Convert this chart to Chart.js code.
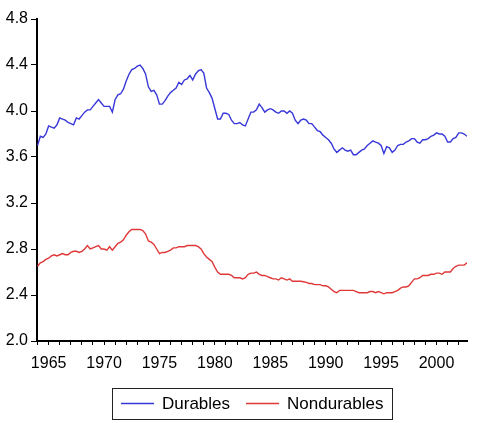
<!DOCTYPE html>
<html>
<head>
<meta charset="utf-8">
<script src="https://cdn.jsdelivr.net/npm/chart.js@4.4.0/dist/chart.umd.min.js"></script>
<style>
  html, body { margin: 0; padding: 0; background: #fff; }
  #chart { display: block; }
</style>
</head>
<body>
<canvas id="chart" width="480" height="423"></canvas>
<script>
// quarterly series, first observation 1964Q1
const startYear = 1964;
const seriesNames = ['Durables', 'Nondurables'];
const yTicks = [2.0, 2.4, 2.8, 3.2, 3.6, 4.0, 4.4, 4.8];
const yearTicks = [1964, 1965, 1966, 1967, 1968, 1969, 1970, 1971, 1972, 1973,
    1974, 1975, 1976, 1977, 1978, 1979, 1980, 1981, 1982, 1983,
    1984, 1985, 1986, 1987, 1988, 1989, 1990, 1991, 1992, 1993,
    1994, 1995, 1996, 1997, 1998, 1999, 2000, 2001, 2002];
const labelYears = [1965, 1970, 1975, 1980, 1985, 1990, 1995, 2000];

const durables = [
    3.70, 3.78, 3.77, 3.80, 3.87, 3.86, 3.85, 3.88, 3.94, 3.93,
    3.92, 3.90, 3.89, 3.88, 3.94, 3.93, 3.96, 3.99, 4.01, 4.01,
    4.04, 4.07, 4.10, 4.07, 4.04, 4.04, 4.04, 3.99, 4.10, 4.14,
    4.15, 4.19, 4.26, 4.32, 4.36, 4.37, 4.39, 4.40, 4.37, 4.32,
    4.21, 4.17, 4.18, 4.14, 4.06, 4.06, 4.09, 4.13, 4.16, 4.18,
    4.20, 4.25, 4.23, 4.27, 4.28, 4.31, 4.27, 4.32, 4.35, 4.36,
    4.33, 4.20, 4.16, 4.11, 4.02, 3.93, 3.93, 3.98, 3.98, 3.97,
    3.92, 3.89, 3.89, 3.90, 3.88, 3.87, 3.93, 3.99, 3.99, 4.01,
    4.06, 4.03, 3.99, 4.01, 4.02, 4.01, 3.99, 3.98, 4.00, 4.00,
    3.98, 4.00, 3.98, 3.92, 3.89, 3.92, 3.93, 3.92, 3.89, 3.89,
    3.86, 3.83, 3.82, 3.79, 3.77, 3.75, 3.72, 3.67, 3.64, 3.66,
    3.68, 3.66, 3.65, 3.66, 3.62, 3.62, 3.64, 3.66, 3.67, 3.70,
    3.72, 3.74, 3.73, 3.72, 3.70, 3.63, 3.69, 3.68, 3.64, 3.66,
    3.70, 3.71, 3.71, 3.73, 3.74, 3.76, 3.76, 3.73, 3.72, 3.75,
    3.75, 3.76, 3.78, 3.79, 3.81, 3.80, 3.80, 3.78, 3.73, 3.73,
    3.76, 3.77, 3.81, 3.81, 3.80, 3.78
];

const nondurables = [
    2.65, 2.68, 2.69, 2.71, 2.72, 2.74, 2.75, 2.74, 2.75, 2.76,
    2.75, 2.75, 2.77, 2.78, 2.78, 2.77, 2.78, 2.80, 2.83, 2.80,
    2.81, 2.82, 2.83, 2.80, 2.80, 2.79, 2.82, 2.79, 2.82, 2.85,
    2.86, 2.88, 2.92, 2.95, 2.97, 2.97, 2.97, 2.97, 2.96, 2.93,
    2.87, 2.86, 2.84, 2.80, 2.76, 2.77, 2.77, 2.78, 2.79, 2.81,
    2.81, 2.82, 2.82, 2.82, 2.83, 2.83, 2.83, 2.83, 2.82, 2.80,
    2.76, 2.73, 2.71, 2.69, 2.64, 2.60, 2.58, 2.58, 2.58, 2.58,
    2.57, 2.55, 2.55, 2.55, 2.54, 2.55, 2.58, 2.59, 2.59, 2.60,
    2.58, 2.57, 2.57, 2.56, 2.55, 2.54, 2.54, 2.53, 2.55, 2.54,
    2.53, 2.54, 2.52, 2.52, 2.52, 2.52, 2.515, 2.51, 2.50, 2.50,
    2.49, 2.49, 2.49, 2.48, 2.48, 2.47, 2.45, 2.43, 2.42, 2.44,
    2.44, 2.44, 2.44, 2.44, 2.44, 2.43, 2.42, 2.42, 2.42, 2.42,
    2.43, 2.43, 2.42, 2.43, 2.42, 2.41, 2.42, 2.42, 2.42, 2.43,
    2.44, 2.46, 2.47, 2.47, 2.48, 2.51, 2.54, 2.54, 2.55, 2.57,
    2.57, 2.57, 2.58, 2.58, 2.59, 2.59, 2.58, 2.60, 2.60, 2.60,
    2.63, 2.65, 2.66, 2.66, 2.66, 2.68
];

const colors = ['#3838d8', '#e03838'];
const fontFamily = '"Liberation Sans", Arial, Helvetica, sans-serif';

function toPoints(values) {
    return values.map((v, i) => ({ x: startYear + i / 4, y: v }));
}

// boxed legend under the plot, line sample + label for each series
const boxLegend = {
    id: 'boxLegend',
    afterDraw(chart) {
        const ctx = chart.ctx;
        const area = chart.chartArea;
        const lineLen = 33, gap = 8, itemGap = 16, pad = 9;
        ctx.save();
        ctx.font = '17px ' + fontFamily;
        const items = chart.data.datasets.map(ds => ({
            text: ds.label,
            color: ds.borderColor,
            w: ctx.measureText(ds.label).width
        }));
        let total = pad * 2 + itemGap * (items.length - 1);
        items.forEach(it => { total += lineLen + gap + it.w; });
        const left = Math.round((area.left + area.right) / 2 - total / 2);
        const top = chart.height - 35;
        const h = 31;
        const mid = top + h / 2;

        ctx.strokeStyle = '#222';
        ctx.lineWidth = 1;
        ctx.strokeRect(left + 0.5, top + 0.5, Math.round(total), h);

        let x = left + pad;
        items.forEach(it => {
            ctx.strokeStyle = it.color;
            ctx.lineWidth = 1.3;
            ctx.beginPath();
            ctx.moveTo(x, mid);
            ctx.lineTo(x + lineLen, mid);
            ctx.stroke();
            x += lineLen + gap;
            ctx.fillStyle = '#000';
            ctx.textBaseline = 'middle';
            ctx.textAlign = 'left';
            ctx.fillText(it.text, x, mid + 1);
            x += it.w + itemGap;
        });
        ctx.restore();
    }
};

new Chart(document.getElementById('chart'), {
    type: 'line',
    data: {
        datasets: [
            {
                label: seriesNames[0],
                data: toPoints(durables),
                borderColor: colors[0],
                borderWidth: 1.4,
                pointRadius: 0,
                tension: 0,
                fill: false
            },
            {
                label: seriesNames[1],
                data: toPoints(nondurables),
                borderColor: colors[1],
                borderWidth: 1.4,
                pointRadius: 0,
                tension: 0,
                fill: false
            }
        ]
    },
    options: {
        responsive: false,
        animation: false,
        devicePixelRatio: 1,
        layout: { padding: { top: 19, right: 13, bottom: 47, left: 0 } },
        plugins: {
            legend: { display: false },
            tooltip: { enabled: false }
        },
        scales: {
            x: {
                type: 'linear',
                min: 1963.95,
                max: 2002.75,
                afterFit: s => { s.height = 35; },
                afterBuildTicks: s => { s.ticks = yearTicks.map(v => ({ value: v })); },
                border: { display: true, color: '#000', width: 2 },
                grid: {
                    display: true,
                    drawOnChartArea: false,
                    drawTicks: true,
                    tickLength: 4,
                    color: '#000',
                    lineWidth: 1
                },
                ticks: {
                    autoSkip: false,
                    maxRotation: 0,
                    padding: 9,
                    color: '#000',
                    font: { family: fontFamily, size: 16 },
                    callback: v => labelYears.includes(v) ? String(v) : ''
                }
            },
            y: {
                min: yTicks[0],
                max: yTicks[yTicks.length - 1],
                afterFit: s => { s.width = 37; },
                afterBuildTicks: s => { s.ticks = yTicks.map(v => ({ value: v })); },
                border: { display: true, color: '#000', width: 2 },
                grid: {
                    display: true,
                    drawOnChartArea: false,
                    drawTicks: true,
                    tickLength: 6,
                    color: '#000',
                    lineWidth: 1
                },
                ticks: {
                    padding: 3,
                    color: '#000',
                    font: { family: fontFamily, size: 16 },
                    callback: v => v.toFixed(1)
                }
            }
        }
    },
    plugins: [boxLegend]
});
</script>
</body>
</html>
